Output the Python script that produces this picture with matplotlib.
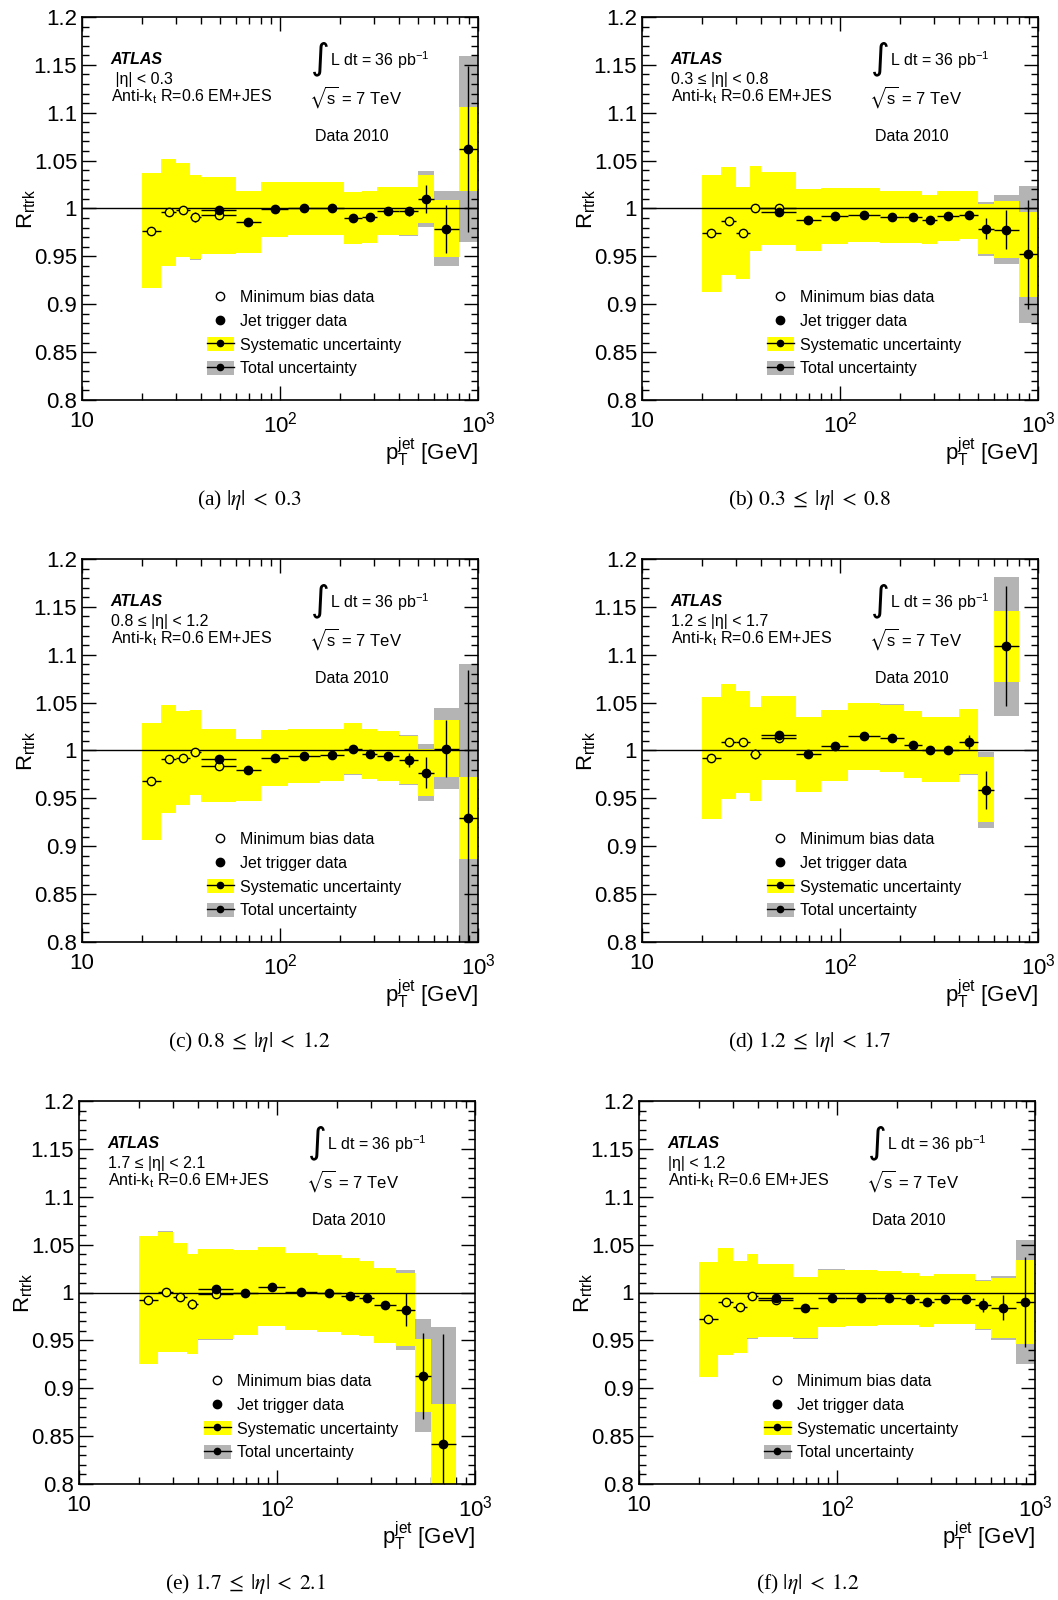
import numpy as np
import matplotlib
matplotlib.use('Agg')
import matplotlib.pyplot as plt
from matplotlib.patches import Patch
from matplotlib.lines import Line2D
from matplotlib.ticker import FixedLocator, MultipleLocator, FuncFormatter

plt.rcParams['font.family'] = ['Liberation Sans', 'DejaVu Sans']
plt.rcParams['mathtext.fontset'] = 'stix'

# pT bin edges [GeV]
edges = [20, 25, 30, 35, 40, 60, 80, 110, 160, 210, 260, 310, 400, 500, 600, 800, 1000]

# tick values / labels
xtick_vals = [10, 100, 1000]
xtick_labels = ['10', r'$\mathregular{10^{2}}$', r'$\mathregular{10^{3}}$']

# (a) |eta| < 0.3
mb_a = [0.977, 0.996, 0.998, 0.991, 0.993]
jet_a = [0.998, 0.986, 0.999, 1.000, 1.000, 0.990, 0.991, 0.997, 0.997, 1.010, 0.979, 1.062]
syst_a = [0.060, 0.056, 0.049, 0.044, 0.040, 0.032, 0.029, 0.028, 0.028, 0.027, 0.027, 0.025, 0.025, 0.025, 0.030, 0.044]
stat_a = [0.002, 0.002, 0.002, 0.005, 0.003, 0.002, 0.002, 0.002, 0.002, 0.002, 0.002, 0.003, 0.005, 0.015, 0.025, 0.087]

# (b) 0.3 <= |eta| < 0.8
mb_b = [0.974, 0.987, 0.974, 1.000, 1.000]
jet_b = [0.996, 0.988, 0.992, 0.993, 0.991, 0.991, 0.9885, 0.992, 0.993, 0.979, 0.978, 0.952]
syst_b = [0.061, 0.056, 0.048, 0.044, 0.038, 0.032, 0.029, 0.028, 0.027, 0.027, 0.026, 0.026, 0.025, 0.026, 0.030, 0.044]
stat_b = [0.002, 0.002, 0.002, 0.003, 0.003, 0.002, 0.002, 0.002, 0.002, 0.002, 0.002, 0.002, 0.004, 0.011, 0.020, 0.057]

# (c) 0.8 <= |eta| < 1.2
mb_c = [0.968, 0.991, 0.992, 0.998, 0.984]
jet_c = [0.991, 0.9795, 0.992, 0.994, 0.995, 1.002, 0.996, 0.994, 0.990, 0.977, 1.002, 0.9295]
syst_c = [0.061, 0.056, 0.049, 0.044, 0.038, 0.032, 0.029, 0.028, 0.027, 0.027, 0.026, 0.026, 0.025, 0.025, 0.030, 0.043]
stat_c = [0.002, 0.002, 0.002, 0.004, 0.003, 0.002, 0.002, 0.002, 0.002, 0.002, 0.002, 0.002, 0.007, 0.016, 0.030, 0.155]

# (d) 1.2 <= |eta| < 1.7
mb_d = [0.992, 1.009, 1.009, 0.9965, 1.013]
jet_d = [1.016, 0.996, 1.005, 1.015, 1.013, 1.006, 1.001, 1.001, 1.009, 0.959, 1.109, np.nan]
syst_d = [0.064, 0.060, 0.053, 0.049, 0.044, 0.039, 0.037, 0.035, 0.035, 0.035, 0.034, 0.034, 0.034, 0.034, 0.037, np.nan]
stat_d = [0.002, 0.002, 0.002, 0.005, 0.003, 0.002, 0.002, 0.002, 0.002, 0.002, 0.002, 0.002, 0.007, 0.020, 0.0625, np.nan]

# (e) 1.7 <= |eta| < 2.1
mb_e = [0.992, 1.0007, 0.995, 0.988, 0.998]
jet_e = [1.004, 1.000, 1.006, 1.001, 0.999, 0.996, 0.994, 0.9865, 0.982, 0.913, 0.842, np.nan]
syst_e = [0.067, 0.063, 0.057, 0.052, 0.047, 0.044, 0.041, 0.040, 0.040, 0.040, 0.039, 0.039, 0.038, 0.038, 0.042, np.nan]
stat_e = [0.002, 0.002, 0.003, 0.005, 0.003, 0.002, 0.002, 0.002, 0.002, 0.002, 0.002, 0.002, 0.017, 0.045, 0.115, np.nan]

# (f) |eta| < 1.2
mb_f = [0.972, 0.9906, 0.985, 0.996, 0.992]
jet_f = [0.994, 0.984, 0.994, 0.994, 0.994, 0.993, 0.9906, 0.993, 0.993, 0.987, 0.984, 0.990]
syst_f = [0.060, 0.056, 0.048, 0.044, 0.038, 0.032, 0.030, 0.029, 0.028, 0.027, 0.027, 0.026, 0.026, 0.025, 0.031, 0.044]
stat_f = [0.002, 0.002, 0.002, 0.003, 0.002, 0.002, 0.002, 0.002, 0.002, 0.002, 0.002, 0.002, 0.003, 0.007, 0.013, 0.047]

eta_labels = [' |η| < 0.3', '0.3 ≤ |η| < 0.8', '0.8 ≤ |η| < 1.2',
              '1.2 ≤ |η| < 1.7', '1.7 ≤ |η| < 2.1', '|η| < 1.2']
captions = [r'(a) $|\eta|\;<\;0.3$', r'(b) $0.3\;\leq\;|\eta|\;<\;0.8$', r'(c) $0.8\;\leq\;|\eta|\;<\;1.2$',
            r'(d) $1.2\;\leq\;|\eta|\;<\;1.7$', r'(e) $1.7\;\leq\;|\eta|\;<\;2.1$', r'(f) $|\eta|\;<\;1.2$']

YELLOW = '#ffff00'
GRAY = '#b4b4b4'

W, H = 1058, 1600
fig = plt.figure(figsize=(W / 100, H / 100), dpi=100)

# axes boxes in pixels: left, top, right, bottom ; caption centre x, y
boxes = [(82, 17, 478, 400, 249, 500),
         (642, 17, 1038, 400, 809, 500),
         (82, 559, 478, 942, 249, 1042),
         (642, 559, 1038, 942, 809, 1042),
         (79, 1101, 475, 1484, 245, 1584),
         (639, 1101, 1035, 1484, 808, 1584)]

data = [(mb_a, jet_a, syst_a, stat_a), (mb_b, jet_b, syst_b, stat_b),
        (mb_c, jet_c, syst_c, stat_c), (mb_d, jet_d, syst_d, stat_d),
        (mb_e, jet_e, syst_e, stat_e), (mb_f, jet_f, syst_f, stat_f)]

MS = 6


def draw(ax, mb, jet, syst, stat, eta_txt):
    lo = np.array(edges[:-1], dtype=float)
    hi = np.array(edges[1:], dtype=float)
    xc = np.sqrt(lo * hi)
    nmb = len(mb)
    centre = np.array(list(mb) + list(jet[1:]))
    syst = np.array(syst)
    stat = np.array(stat)
    tot = np.sqrt(syst ** 2 + stat ** 2)
    ok = np.isfinite(centre)

    ax.bar(lo[ok], 2 * tot[ok], width=(hi - lo)[ok], bottom=(centre - tot)[ok],
           align='edge', color=GRAY, lw=0, zorder=1)
    ax.bar(lo[ok], 2 * syst[ok], width=(hi - lo)[ok], bottom=(centre - syst)[ok],
           align='edge', color=YELLOW, lw=0, zorder=2)
    ax.axhline(1, color='black', lw=1, zorder=3)

    # minimum bias points
    s = slice(0, nmb)
    ax.errorbar(xc[s], mb, xerr=[xc[s] - lo[s], hi[s] - xc[s]], yerr=stat[s],
                fmt='o', mfc=YELLOW, mec='black', mew=1, ms=MS, color='black',
                elinewidth=1, capsize=0, zorder=4)
    # jet trigger points
    jv = np.array(jet)
    j = np.arange(nmb - 1, len(edges) - 1)
    okj = np.isfinite(jv)
    j = j[okj]
    ax.errorbar(xc[j], jv[okj], xerr=[xc[j] - lo[j], hi[j] - xc[j]], yerr=stat[j],
                fmt='o', mfc='black', mec='black', ms=MS, color='black',
                elinewidth=1, capsize=0, zorder=5)

    ax.set_xscale('log')
    ax.set_xlim(10, 1000)
    ax.set_ylim(0.8, 1.2)
    ax.xaxis.set_major_locator(FixedLocator(xtick_vals))
    ax.xaxis.set_minor_locator(FixedLocator([m * 10 ** k for k in (1, 2) for m in range(2, 10)]))
    ax.set_xticklabels(xtick_labels)
    ax.xaxis.set_minor_formatter(FuncFormatter(lambda v, p: ''))
    ax.yaxis.set_major_locator(MultipleLocator(0.05))
    ax.yaxis.set_minor_locator(MultipleLocator(0.01))
    ax.yaxis.set_major_formatter(FuncFormatter(lambda v, p: '%g' % round(v, 2)))
    ax.tick_params(which='both', direction='in', top=True, right=True, width=1)
    ax.tick_params(which='major', length=10, labelsize=16)
    ax.tick_params(which='minor', length=5)
    ax.tick_params(axis='x', which='major', pad=8)
    for sp in ax.spines.values():
        sp.set_linewidth(1.2)

    tr = ax.transAxes
    ax.text(0.072, 0.889, 'ATLAS', transform=tr, fontsize=11.5, fontweight='bold',
            fontstyle='italic', va='center')
    ax.text(0.072, 0.837, eta_txt, transform=tr, fontsize=11.5, va='center')
    ax.text(0.072, 0.790, r'Anti-k$_{\mathregular{t}}$ R=0.6 EM+JES', transform=tr,
            fontsize=11.5, va='center')
    ax.text(0.602, 0.892, '∫', transform=tr, fontsize=26, va='center', ha='center',
            family=['DejaVu Sans'])
    ax.text(0.626, 0.889, r'L dt = 36 pb$^{\mathregular{-1}}$', transform=tr,
            fontsize=11.5, va='center')
    ax.text(0.572, 0.790, r'$\sqrt{\mathregular{s}}$ = 7 TeV', transform=tr,
            fontsize=12, va='center')
    ax.text(0.589, 0.689, 'Data 2010', transform=tr, fontsize=11.5, va='center')

    ax.text(1.0, -0.136, r'$\mathregular{p_{T}^{jet}}$ [GeV]', transform=tr,
            fontsize=16, ha='right', va='center')
    ax.text(-0.14, 0.5, r'$\mathregular{R_{rtrk}}$', transform=tr, fontsize=16,
            rotation=90, ha='center', va='center')

    handles = [Line2D([], [], marker='o', mfc='none', mec='black', ls='none', ms=MS),
               Line2D([], [], marker='o', mfc='black', mec='black', ls='none', ms=MS),
               (Patch(fc=YELLOW, lw=0), Line2D([], [], color='black', lw=1, marker='o', ms=4.5)),
               (Patch(fc=GRAY, lw=0), Line2D([], [], color='black', lw=1, marker='o', ms=4.5))]
    labels = ['Minimum bias data', 'Jet trigger data', 'Systematic uncertainty', 'Total uncertainty']
    ax.legend(handles, labels, loc='lower left', bbox_to_anchor=(0.315, 0.062),
              frameon=False, fontsize=11.5, handlelength=1.7, handleheight=1.0,
              handletextpad=0.4, labelspacing=0.5, borderpad=0, borderaxespad=0,
              numpoints=1)


for (l, t, r, b, cx, cy), (mb, jet, syst, stat), eta_txt, cap in zip(boxes, data, eta_labels, captions):
    ax = fig.add_axes([l / W, 1 - b / H, (r - l) / W, (b - t) / H])
    draw(ax, mb, jet, syst, stat, eta_txt)
    fig.text(cx / W, 1 - cy / H, cap, fontsize=15.5, ha='center', va='center',
             family=['Liberation Serif', 'DejaVu Serif'])

fig.savefig('out.png', dpi=100)
